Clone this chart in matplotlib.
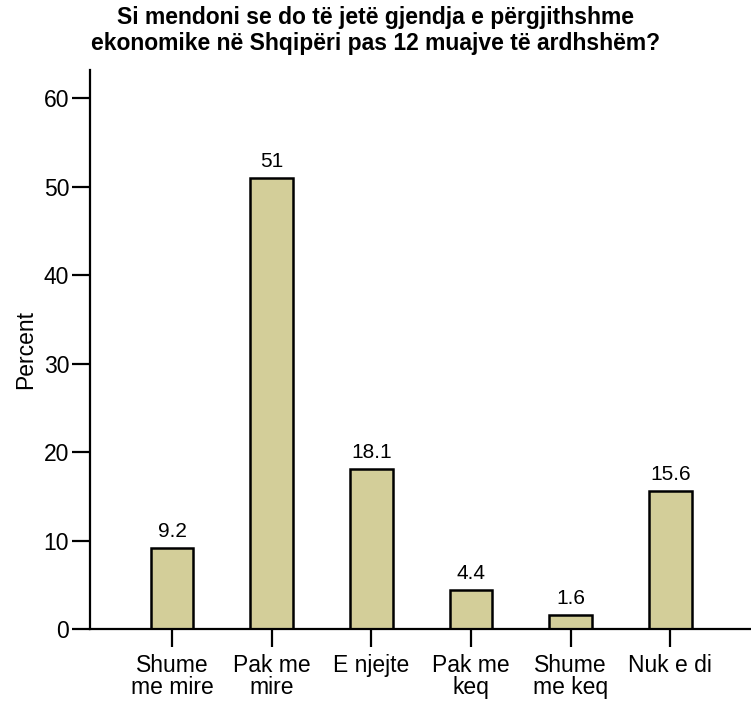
import matplotlib
matplotlib.use("Agg")
import matplotlib.pyplot as plt

categories = ["Shume\nme mire", "Pak me\nmire", "E njejte", "Pak me\nkeq", "Shume\nme keq", "Nuk e di"]
values = [9.2, 51, 18.1, 4.4, 1.6, 15.6]
value_labels = ["9.2", "51", "18.1", "4.4", "1.6", "15.6"]
yticks = [0, 10, 20, 30, 40, 50, 60]

plt.rcParams['font.family'] = ['Liberation Sans', 'DejaVu Sans']

W, H = 751, 707
fig = plt.figure(figsize=(W / 100, H / 100), dpi=100)
ax = fig.add_axes([90 / W, (H - 629) / H, (751 - 90) / W, (629 - 70) / H])

x = list(range(len(categories)))
ax.bar(x, values, width=0.43, color="#D3CE99", edgecolor="black", linewidth=1.8)
for xi, v, lab in zip(x, values, value_labels):
    ax.annotate(lab, (xi, v), xytext=(0, 5), textcoords="offset points",
                ha="center", va="bottom", fontsize=15)

ax.set_xlim(-0.823, 5.81)
ax.set_ylim(0, 63.2)
ax.set_yticks(yticks)
ax.set_xticks(x)
ax.set_xticklabels(categories, fontsize=16.5, linespacing=0.95)
ax.tick_params(axis="y", labelsize=16.5, length=13, width=1.6, pad=2)
ax.tick_params(axis="x", length=13, width=1.6, pad=5)
for s in ["top", "right"]:
    ax.spines[s].set_visible(False)
for s in ["left", "bottom"]:
    ax.spines[s].set_linewidth(1.6)
ax.set_ylabel("Percent", fontsize=16.5, labelpad=5)

fig.suptitle("Si mendoni se do të jetë gjendja e përgjithshme\nekonomike në Shqipëri pas 12 muajve të ardhshëm?",
             fontsize=16.5, fontweight="bold", x=0.5, y=0.992, va="top", linespacing=1.2)

fig.savefig("out.png", dpi=100)
